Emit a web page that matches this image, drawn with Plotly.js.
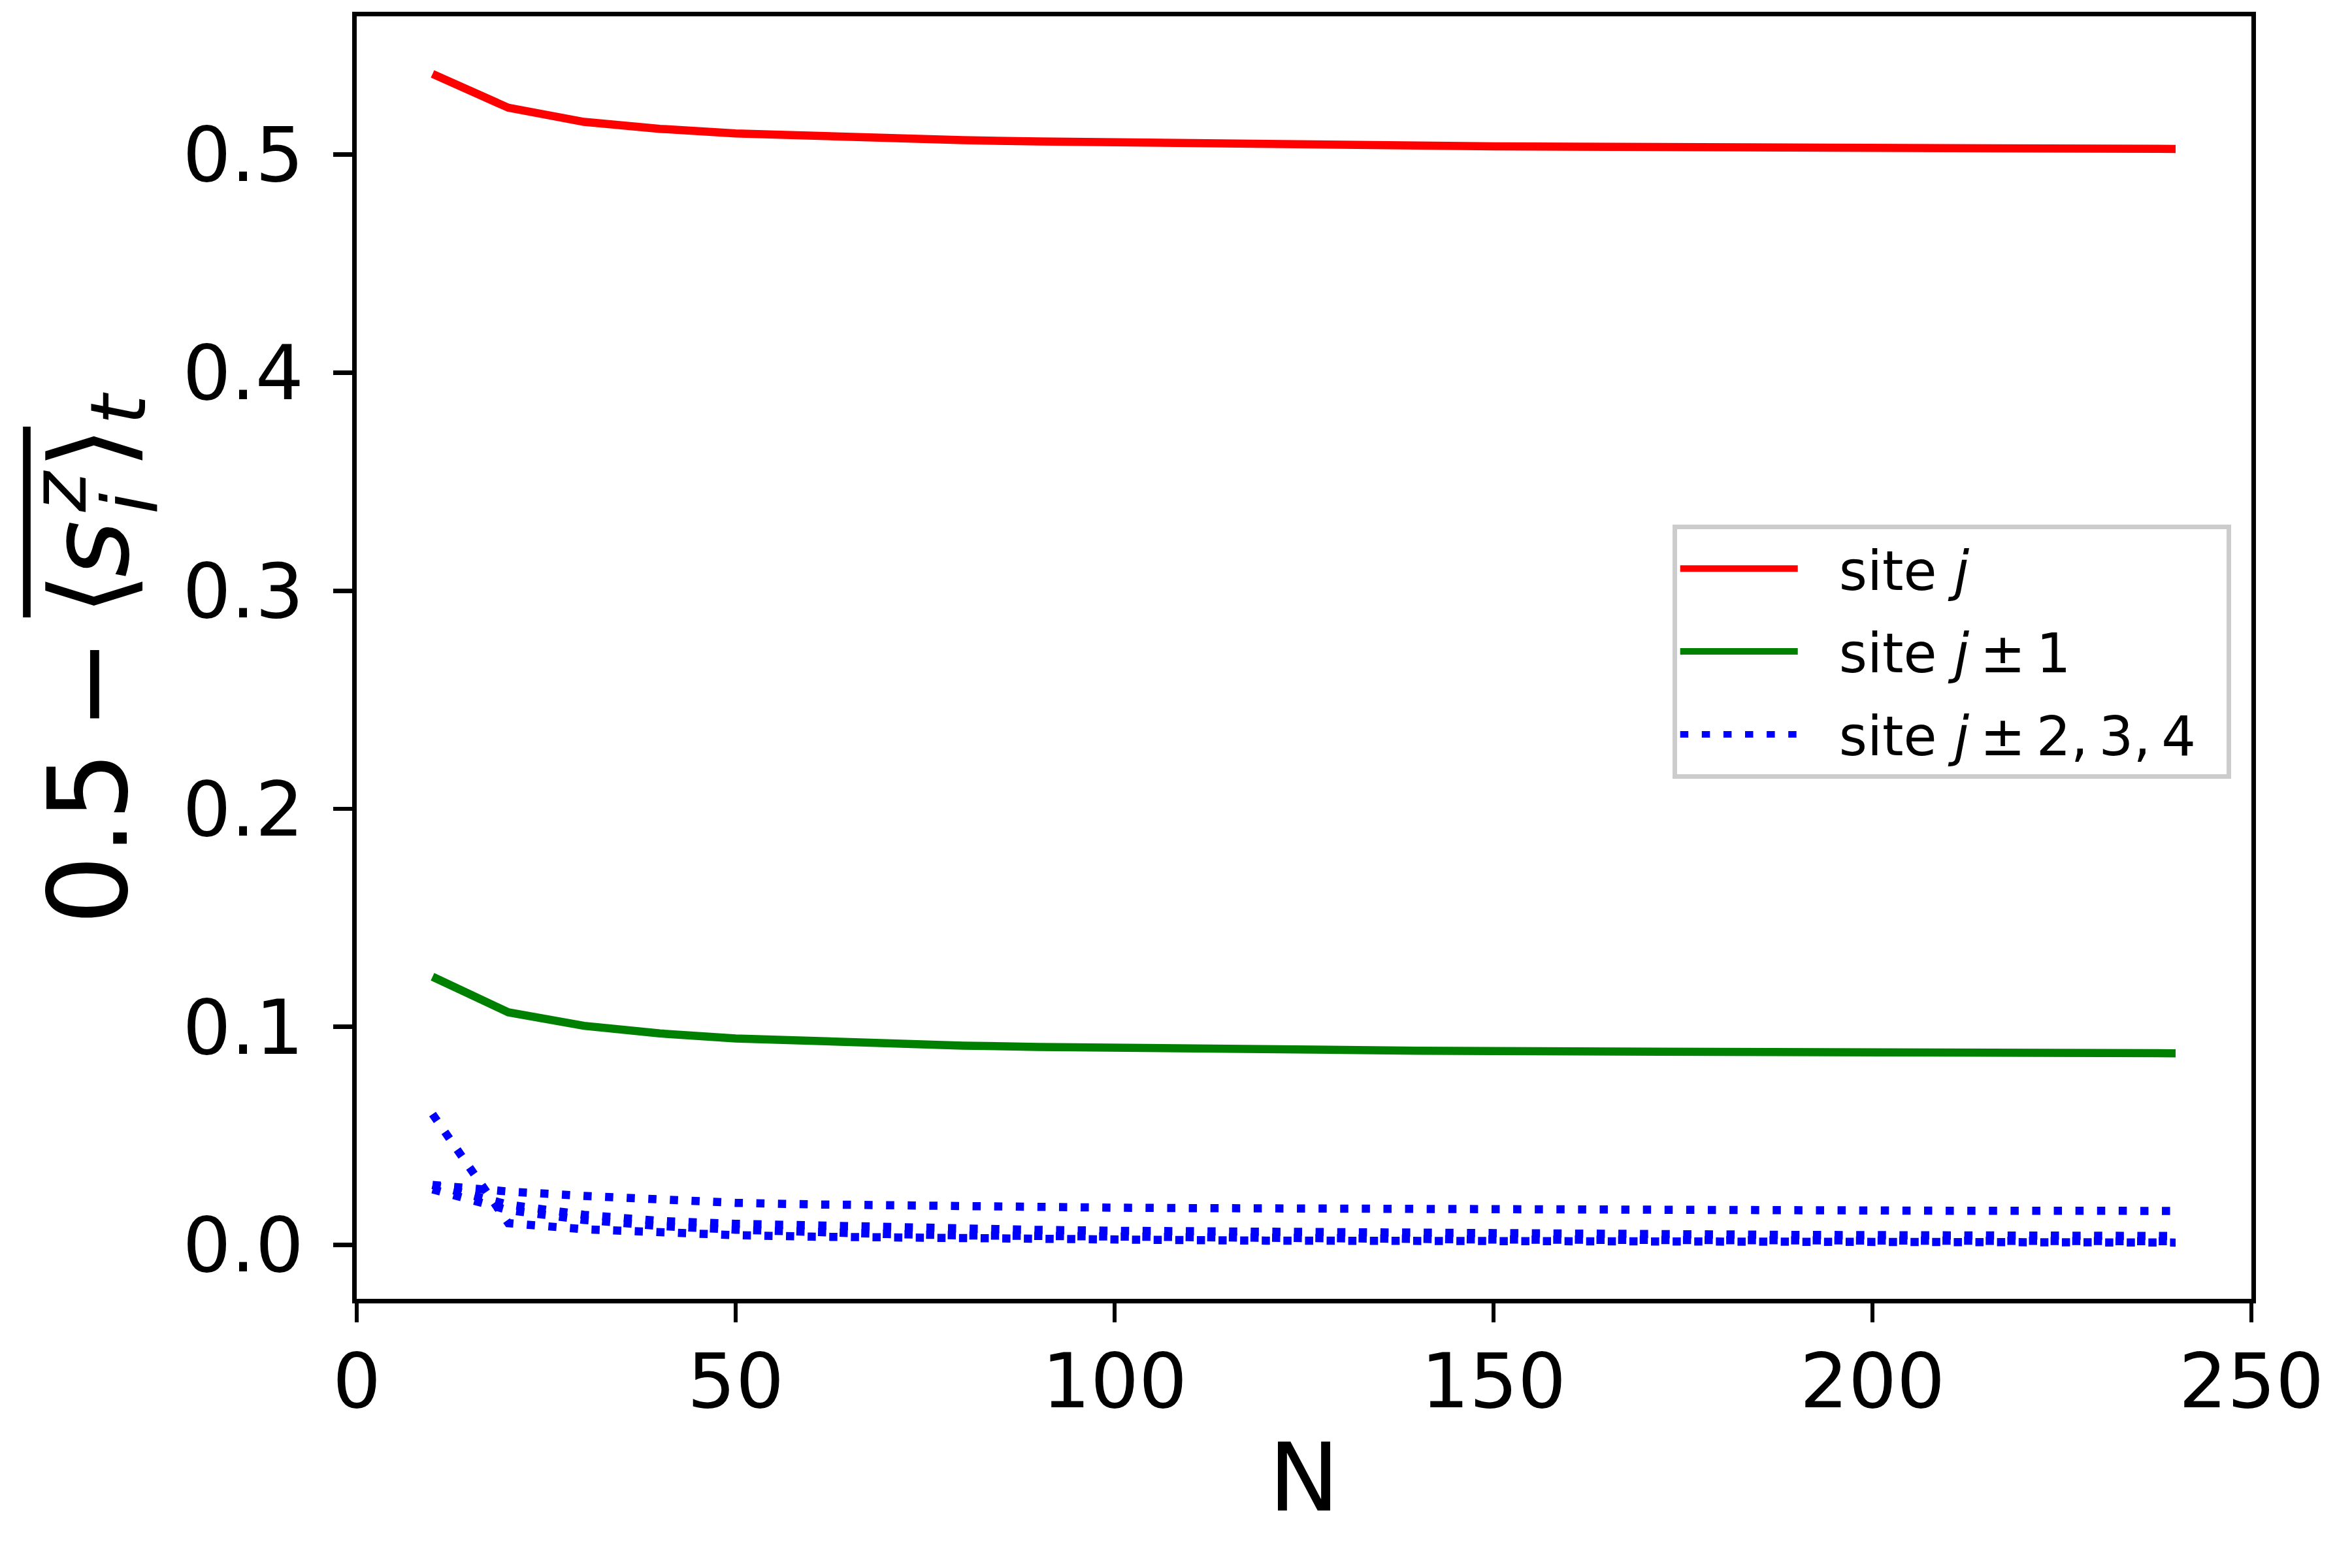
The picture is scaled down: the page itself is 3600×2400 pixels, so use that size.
<!DOCTYPE html>
<html>
<head>
<meta charset="utf-8">
<script src="https://cdn.plot.ly/plotly-3.0.1.min.js"></script>
<style>html,body{margin:0;padding:0;background:#fff;}#chart{width:3600px;height:2400px;}</style>
</head>
<body>
<div id="chart"></div>
<script>
// ---- data ----
const N = [10,20,30,40,50,60,70,80,90,100,110,120,130,140,150,160,170,180,190,200,210,220,230,240];
const siteJ = [0.537,0.5215,0.515,0.5118,0.5097,0.5085,0.5075,0.5066,0.506,0.5055,0.505,0.5046,0.5043,0.504,0.5038,0.5036,0.5034,0.5033,0.5031,0.503,0.5029,0.5028,0.5027,0.5026];
const siteJ1 = [0.123,0.1067,0.1005,0.097,0.0947,0.0933,0.0922,0.0914,0.0908,0.0903,0.0899,0.0896,0.0893,0.0891,0.0889,0.0887,0.0886,0.0885,0.0884,0.0883,0.0882,0.0881,0.088,0.0879];
const siteFarA = [0.0275,0.0245,0.0225,0.0205,0.0193,0.0186,0.018,0.0176,0.0173,0.0171,0.0169,0.0167,0.0165,0.0164,0.0162,0.0161,0.016,0.0159,0.0158,0.0158,0.0157,0.0157,0.0156,0.0156];
const siteFarB = [0.0275,0.0185,0.0138,0.011,0.0097,0.0088,0.008,0.0074,0.0069,0.0065,0.0062,0.0059,0.0056,0.0054,0.0052,0.005,0.0049,0.0047,0.0046,0.0045,0.0044,0.0043,0.0042,0.0041];
const siteFarC = [0.0255,0.016,0.0115,0.0087,0.007,0.0058,0.005,0.0044,0.004,0.0036,0.0033,0.0031,0.0029,0.0027,0.0025,0.0024,0.0023,0.0022,0.0021,0.002,0.0019,0.0018,0.0018,0.0017];
const siteFarD = [0.06,0.0100,0.0072,0.0055,0.0045,0.0038,0.0033,0.0029,0.0026,0.0024,0.0022,0.002,0.0019,0.0018,0.0017,0.0016,0.0015,0.0014,0.0014,0.0013,0.0013,0.0012,0.0012,0.0011];
const xTicks = [0,50,100,150,200,250];
const yTicks = [0.0,0.1,0.2,0.3,0.4,0.5];
const legendNames = [
  '\u2002\u2009site <i>j</i>',
  '\u2002\u2009site <i>j</i>\u2009\u00B1\u20091',
  '\u2002\u2009site <i>j</i>\u2009\u00B1\u20092,\u20093,\u20094\u2002'
];

// ---- geometry ----
const W = 3600, H = 2400;
const L = 546, R = 3446, T = 25, B = 1988;
const px2x = p => (p - L) / (R - L);
const px2y = p => (B - p) / (B - T);
const FONT = 'DejaVu Sans';
const LW = 12.5;
const DOT = '12.5px,20.6px';

const traces = [
  {x:N, y:siteJ, name:legendNames[0], mode:'lines', line:{color:'#ff0000', width:LW}, legendgroup:'a'},
  {x:N, y:siteJ1, name:legendNames[1], mode:'lines', line:{color:'#008000', width:LW}, legendgroup:'b'},
  {x:N, y:siteFarA, name:legendNames[2], mode:'lines', line:{color:'#0000ff', width:LW, dash:DOT}, legendgroup:'c'},
  {x:N, y:siteFarB, name:legendNames[2], mode:'lines', line:{color:'#0000ff', width:LW, dash:DOT}, legendgroup:'c', showlegend:false},
  {x:N, y:siteFarC, name:legendNames[2], mode:'lines', line:{color:'#0000ff', width:LW, dash:DOT}, legendgroup:'c', showlegend:false},
  {x:N, y:siteFarD, name:legendNames[2], mode:'lines', line:{color:'#0000ff', width:LW, dash:DOT}, legendgroup:'c', showlegend:false}
];

function yl(text, px, py, size) {
  return {text:text, xref:'paper', yref:'paper', x:px2x(px), y:px2y(py), xanchor:'center', yanchor:'middle',
          textangle:-90, showarrow:false, font:{family:FONT, size:size, color:'#000'}, borderpad:0};
}
const big = 167, small = 117;
const annotations = [
  yl('0.5', 135.5, 1282, big),
  yl('\u2212', 139, 1047, big),
  yl('\u27E8', 138, 910, big),
  yl('<i>s</i>', 137.5, 840, big),
  yl('<i>z</i>', 89.5, 752, small),
  yl('<i>i</i>', 200, 771, small),
  yl('\u27E9', 138, 686, big),
  yl('<i>t</i>', 181, 625, small)
];
const shapes = [
  {type:'line', xref:'paper', yref:'paper', x0:px2x(41), x1:px2x(41), y0:px2y(653), y1:px2y(945), line:{color:'#000', width:11.7}}
];

const axisCommon = {
  showline:true, linecolor:'#000', linewidth:6.7, mirror:true,
  ticks:'outside', ticklen:29, tickwidth:6.7, tickcolor:'#000',
  showgrid:false, zeroline:false,
  tickfont:{family:FONT, size:116.7, color:'#000'}
};

const layout = {
  width:W, height:H,
  paper_bgcolor:'#fff', plot_bgcolor:'#fff',
  margin:{l:L, r:W-R, t:T, b:H-B, pad:0},
  showlegend:true,
  hovermode:false,
  xaxis:Object.assign({}, axisCommon, {
    range:[0,250], tickvals:xTicks, ticktext:xTicks.map(String), ticklabelstandoff:-10,
    title:{text:'N', font:{family:FONT, size:145, color:'#000'}, standoff:32}, automargin:false
  }),
  yaxis:Object.assign({}, axisCommon, {
    range:[-0.0247, 0.5634], tickvals:yTicks, ticktext:yTicks.map(v=>v.toFixed(1)), ticklabelstandoff:22,
    automargin:false
  }),
  legend:{
    x:px2x(2560), y:px2y(803), xanchor:'left', yanchor:'top',
    bgcolor:'rgba(255,255,255,0.8)', bordercolor:'#cccccc', borderwidth:6.7,
    font:{family:FONT, size:83, color:'#000'},
    traceorder:'grouped', tracegroupgap:16, itemwidth:180
  },
  annotations:annotations,
  shapes:shapes
};

Plotly.newPlot('chart', traces, layout, {staticPlot:true, displayModeBar:false});
</script>
</body>
</html>
